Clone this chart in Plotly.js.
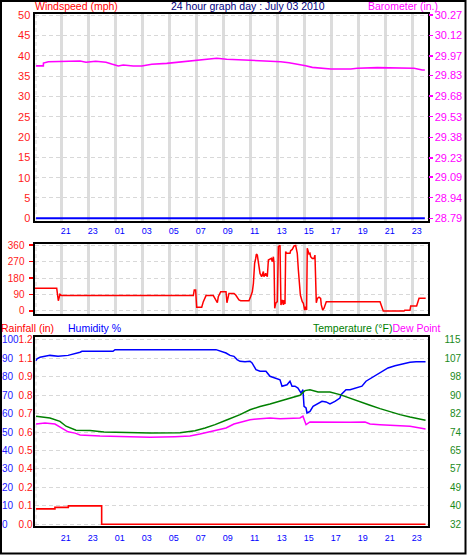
<!DOCTYPE html>
<html><head><meta charset="utf-8">
<script src="https://cdn.plot.ly/plotly-3.0.1.min.js"></script>
<style>html,body{margin:0;padding:0;background:#fff}#chart{width:468px;height:559px}</style>
</head><body><div id="chart"></div>
<script>
// ---- tick labels ----
const hourTickVals = [21,23,25,27,29,31,33,35,37,39,41,43,45,47];
const hourTickText = ["21","23","01","03","05","07","09","11","13","15","17","19","21","23"];
const windTickVals = [0,5,10,15,20,25,30,35,40,45,50];
const windTickText = ["0","5","10","15","20","25","30","35","40","45","50"];
const baroTickText = ["28.79","28.94","29.09","29.23","29.38","29.53","29.68","29.83","29.97","30.12","30.27"];
const dirTickVals = [0,90,180,270,360];
const dirTickText = ["0","90","180","270","360"];
const compassText = ["N","E","S","W","N"];
const humTickVals = [0,10,20,30,40,50,60,70,80,90,100];
const humTickText = ["0","10","20","30","40","50","60","70","80","90","100"];
const rainTickText = ["0.0","0.1","0.2","0.4","0.5","0.6","0.7","0.8","0.9","1.1","1.2"];
const tempTickText = ["32","40","49","57","65","74","82","90","98","107","115"];

// ---- data (time in hours from Jul 02 00:00) ----
const windTimes = [19.10, 47.90];
const windSpeed = [0, 0];

const baroTimes = [19.10,19.64,19.65,20.01,22.36,22.80,23.52,24.28,24.70,25.19,25.56,26.30,26.93,27.67,28.78,29.76,30.75,31.74,32.48,33.22,36.67,37.22,37.84,38.45,39.07,39.56,40.30,40.93,42.41,42.90,44.38,45.86,47.10,47.71,47.90];
const baroValues = [29.900,29.900,29.920,29.930,29.935,29.926,29.933,29.926,29.913,29.899,29.906,29.899,29.899,29.911,29.918,29.928,29.935,29.948,29.955,29.948,29.937,29.930,29.923,29.913,29.901,29.889,29.882,29.877,29.877,29.882,29.887,29.887,29.882,29.870,29.870];

const dirTimes = [19.02,20.63,20.75,20.87,21.00,30.75,30.82,30.92,31.00,31.37,31.49,31.69,32.23,32.36,32.53,32.60,32.78,33.17,33.24,33.39,33.76,33.89,34.13,34.26,34.87,34.99,35.12,35.20,35.29,35.37,35.42,35.49,35.54,35.61,35.69,35.81,35.94,35.98,36.11,36.23,36.31,36.53,36.60,36.68,36.73,36.78,36.85,36.97,37.05,37.17,37.24,37.34,37.42,37.47,37.54,37.59,37.66,37.91,37.96,38.08,38.21,38.33,38.45,38.53,38.60,38.68,38.82,38.90,39.00,39.07,39.14,39.19,39.32,39.39,39.44,39.56,39.69,39.76,39.86,39.94,40.06,40.18,40.23,40.33,40.43,40.50,40.60,44.58,44.82,46.36,46.41,46.80,46.85,47.29,47.47,47.96];
const dirValues = [124,124,56,91,84,84,115,115,20,20,51,84,84,69,45,78,105,105,45,96,96,87,60,56,56,78,105,151,260,287,311,305,278,251,205,187,215,187,205,187,278,287,269,296,260,15,42,51,351,358,33,60,33,60,38,324,315,315,329,336,355,358,315,224,142,87,51,42,5,24,5,342,311,315,296,287,287,305,45,69,75,69,33,5,15,33,51,51,0,0,4,4,27,27,69,69];

const humTimes = [19.10,19.17,19.39,19.76,20.13,20.73,21.47,22.36,22.50,24.80,24.95,32.43,33.17,33.47,33.76,33.99,34.21,34.58,34.95,35.10,35.39,35.69,36.13,36.43,36.87,37.17,37.32,37.69,37.91,38.06,38.28,38.50,38.73,38.87,38.95,39.10,39.17,39.39,39.62,39.99,40.28,40.58,40.87,41.24,41.61,41.69,42.06,42.36,42.87,43.24,43.54,44.13,44.58,45.17,45.69,46.21,46.80,47.25,47.95];
const humValues = [88.6,89.7,90.5,91.0,91.5,91.0,91.5,93.2,93.7,93.7,94.6,94.6,92.8,91.5,91.0,89.2,88.3,88.0,88.3,87.4,83.8,82.9,82.9,80.2,78.9,78.3,74.8,75.6,77.5,74.8,74.8,73.8,71.1,72.9,63.9,63.0,60.3,61.2,63.9,65.2,66.6,66.3,65.2,66.6,68.4,70.2,72.9,72.9,74.2,74.8,77.5,80.2,82.0,84.7,85.9,86.8,87.8,88.0,88.0];

const tempTimes = [19.10,20.13,20.87,21.32,22.06,23.10,24.13,27.54,29.76,30.87,31.62,32.36,33.17,33.76,34.21,34.95,35.69,36.43,37.17,37.91,38.65,39.02,39.39,39.99,40.87,41.61,42.36,43.10,43.84,44.58,45.32,46.06,46.80,47.54,47.95];
const tempValues = [80.6,79.8,78.3,76.1,74.3,74.2,73.5,73.0,73.2,74.1,75.3,76.8,78.8,80.2,81.3,83.5,85.0,86.1,87.3,88.5,90.0,92.1,92.5,91.5,91.5,90.3,88.8,87.3,85.5,84.0,82.5,81.3,80.2,79.3,78.8];

const dewTimes = [19.10,19.76,20.50,21.24,21.47,21.99,22.36,23.84,26.06,27.54,29.39,30.50,31.24,31.99,32.73,33.17,33.76,34.21,34.95,35.69,36.43,37.17,37.91,38.65,38.87,39.10,39.39,40.13,40.87,41.61,42.36,43.47,43.84,44.58,45.32,46.06,46.80,47.54,47.95];
const dewValues = [77.1,77.5,77.1,74.5,73.6,73.0,72.2,71.7,71.4,71.1,71.4,71.7,72.6,73.6,74.4,75.3,77.1,77.9,79.0,79.5,79.8,79.5,79.5,79.8,80.6,76.8,78.0,77.9,78.0,78.0,77.9,78.0,77.1,76.8,76.5,76.3,76.1,75.3,74.9];

const rainTimes = [19.10,20.50,21.49,23.96,47.95];
const rainValues = [0.10,0.11,0.12,0.00,0.00];

// ---- layout helpers (pixel geometry) ----
const W = 468, H = 559;
const px = p => p / W;
const py = p => 1 - p / H;
const xDom = [px(34.5), px(427.5)];
const xRange = [18.985, 48.096];
const FONT = "Liberation Sans, Arial, sans-serif";
const gridC = "#d8d8d8";

const leftTickText = humTickText.map((h, i) =>
  '<span style="color:#2020ff">' + h.padEnd(3, '\u2007') + '</span><span style="color:#ff1010">' + rainTickText[i] + '</span>');
const tempTickVals = tempTickText.map((t, i) => 32 + i * (115 - 32) / 10);
const tempTickLabels = tempTickText.map(t => t.padStart(3, '\u2007'));
const baroTickVals = baroTickText.map(Number);

const traces = [
  {x: windTimes, y: windSpeed, xaxis: 'x', yaxis: 'y', mode: 'lines', line: {color: '#0000ff', width: 2}},
  {x: baroTimes, y: baroValues, xaxis: 'x', yaxis: 'y2', mode: 'lines', line: {color: '#ff00ff', width: 1.6}},
  {x: dirTimes, y: dirValues, xaxis: 'x2', yaxis: 'y3', mode: 'lines', line: {color: '#ff0000', width: 1.5}},
  {x: humTimes, y: humValues, xaxis: 'x3', yaxis: 'y5', mode: 'lines', line: {color: '#0000ff', width: 1.5}},
  {x: tempTimes, y: tempValues, xaxis: 'x3', yaxis: 'y6', mode: 'lines', line: {color: '#008000', width: 1.5}},
  {x: dewTimes, y: dewValues, xaxis: 'x3', yaxis: 'y6', mode: 'lines', line: {color: '#ff00ff', width: 1.5}},
  {x: rainTimes, y: rainValues, xaxis: 'x3', yaxis: 'y7', mode: 'lines', line: {color: '#ff0000', width: 1.6, shape: 'hv'}}
];

const baseX = {
  domain: xDom, range: xRange, tickmode: 'array', tickvals: hourTickVals, ticktext: hourTickText,
  ticks: '', showline: true, linecolor: '#000', linewidth: 2, mirror: true, zeroline: false,
  tickfont: {family: FONT, size: 9, color: '#0000ff'}, ticklabelshift: 4,
  showgrid: true, gridcolor: '#dcdcdc', gridwidth: 3
};

const layout = {
  width: W, height: H, margin: {l: 0, r: 0, t: 0, b: 0},
  paper_bgcolor: '#fff', plot_bgcolor: '#fff', showlegend: false,
  font: {family: FONT},
  xaxis: Object.assign({}, baseX, {anchor: 'y', ticklabelstandoff: 0}),
  xaxis2: Object.assign({}, baseX, {anchor: 'y3', showticklabels: false}),
  xaxis3: Object.assign({}, baseX, {anchor: 'y5', showgrid: false, ticklabelstandoff: 2}),
  yaxis: {
    domain: [py(221), py(14)], range: [-0.66, 50.25], anchor: 'x',
    tickmode: 'array', tickvals: windTickVals, ticktext: windTickText, ticks: '',
    tickfont: {family: FONT, size: 11, color: '#ff1a1a'},
    showline: true, linecolor: '#000', linewidth: 2, mirror: true, zeroline: false,
    showgrid: true, gridcolor: gridC, griddash: '4px,3px', gridwidth: 1
  },
  yaxis2: {
    overlaying: 'y', side: 'right', anchor: 'x', range: [28.7703, 30.2773],
    tickmode: 'array', tickvals: baroTickVals, ticktext: baroTickText,
    ticks: 'outside', ticklen: 4, tickwidth: 1.5, tickcolor: '#ff00ff',
    tickfont: {family: FONT, size: 11, color: '#ff00ff'},
    showgrid: false, zeroline: false, showline: false
  },
  yaxis3: {
    domain: [py(314), py(244)], range: [-16.4, 365.5], anchor: 'x2',
    tickmode: 'array', tickvals: dirTickVals, ticktext: dirTickText,
    ticks: 'outside', ticklen: 4, tickwidth: 1.5, tickcolor: '#ff0000', ticklabelstandoff: 2,
    tickfont: {family: FONT, size: 10, color: '#ff1a1a'},
    showline: true, linecolor: '#000', linewidth: 2, mirror: true, zeroline: false,
    showgrid: true, gridcolor: gridC, griddash: '4px,3px', gridwidth: 1
  },
  yaxis4: {
    overlaying: 'y3', side: 'right', anchor: 'x2', range: [-16.4, 365.5],
    tickmode: 'array', tickvals: dirTickVals, ticktext: compassText, ticks: '',
    ticklabelstandoff: 4,
    tickfont: {family: FONT, size: 12, color: '#ff0000'},
    showgrid: false, zeroline: false, showline: false
  },
  yaxis5: {
    domain: [py(525.7), py(336.5)], range: [-0.76, 101.73], anchor: 'x3',
    tickmode: 'array', tickvals: humTickVals, ticktext: leftTickText, ticks: '',
    ticklabelstandoff: -2,
    tickfont: {family: FONT, size: 10, color: '#2020ff'},
    showline: true, linecolor: '#000', linewidth: 2, mirror: true, zeroline: false,
    showgrid: true, gridcolor: gridC, griddash: '4px,3px', gridwidth: 1
  },
  yaxis6: {
    overlaying: 'y5', side: 'right', anchor: 'x3', range: [31.37, 116.44],
    tickmode: 'array', tickvals: tempTickVals, ticktext: tempTickLabels, ticks: '',
    ticklabelstandoff: 16,
    tickfont: {family: FONT, size: 10, color: '#1a8a1a'},
    showgrid: false, zeroline: false, showline: false
  },
  yaxis7: {
    overlaying: 'y5', anchor: 'x3', range: [-0.0091, 1.2208], visible: false
  },
  shapes: [
    {type: 'line', xref: 'x', yref: 'y domain', x0: 19.10, x1: 19.10, y0: 0, y1: 1, line: {color: gridC, width: 1, dash: '4px,3px'}, layer: 'below'},
    {type: 'line', xref: 'x2', yref: 'y3 domain', x0: 19.10, x1: 19.10, y0: 0, y1: 1, line: {color: gridC, width: 1, dash: '4px,3px'}, layer: 'below'},
    {type: 'line', xref: 'x3', yref: 'y5 domain', x0: 19.10, x1: 19.10, y0: 0, y1: 1, line: {color: gridC, width: 1, dash: '4px,3px'}, layer: 'below'},
    {type: 'rect', xref: 'paper', yref: 'paper', x0: px(1), x1: px(465.5), y0: py(553.5), y1: py(1), line: {color: '#000', width: 2}, fillcolor: 'rgba(0,0,0,0)', layer: 'above'}
  ],
  annotations: [
    {text: 'Windspeed (mph)', xref: 'paper', yref: 'paper', x: px(33), y: py(6), xanchor: 'left', yanchor: 'middle', showarrow: false, font: {family: FONT, size: 10.5, color: '#ff0000'}},
    {text: '24 hour graph day : July 03 2010', xref: 'paper', yref: 'paper', x: px(248), y: py(6), xanchor: 'center', yanchor: 'middle', showarrow: false, font: {family: FONT, size: 10.5, color: '#000080'}},
    {text: 'Barometer (in.)', xref: 'paper', yref: 'paper', x: px(440), y: py(6), xanchor: 'right', yanchor: 'middle', showarrow: false, font: {family: FONT, size: 10.5, color: '#ff00ff'}},
    {text: 'Rainfall (in)', xref: 'paper', yref: 'paper', x: px(-1), y: py(327.5), xanchor: 'left', yanchor: 'middle', showarrow: false, font: {family: FONT, size: 10.5, color: '#ff0000'}},
    {text: 'Humidity %', xref: 'paper', yref: 'paper', x: px(66), y: py(327.5), xanchor: 'left', yanchor: 'middle', showarrow: false, font: {family: FONT, size: 10.5, color: '#0000ff'}},
    {text: 'Temperature (°F)<span style="color:#ff00ff">Dew Point</span>', xref: 'paper', yref: 'paper', x: px(442), y: py(327.5), xanchor: 'right', yanchor: 'middle', showarrow: false, font: {family: FONT, size: 10.5, color: '#008000'}}
  ]
};

Plotly.newPlot('chart', traces, layout, {displayModeBar: false, staticPlot: true});
</script>
</body></html>
